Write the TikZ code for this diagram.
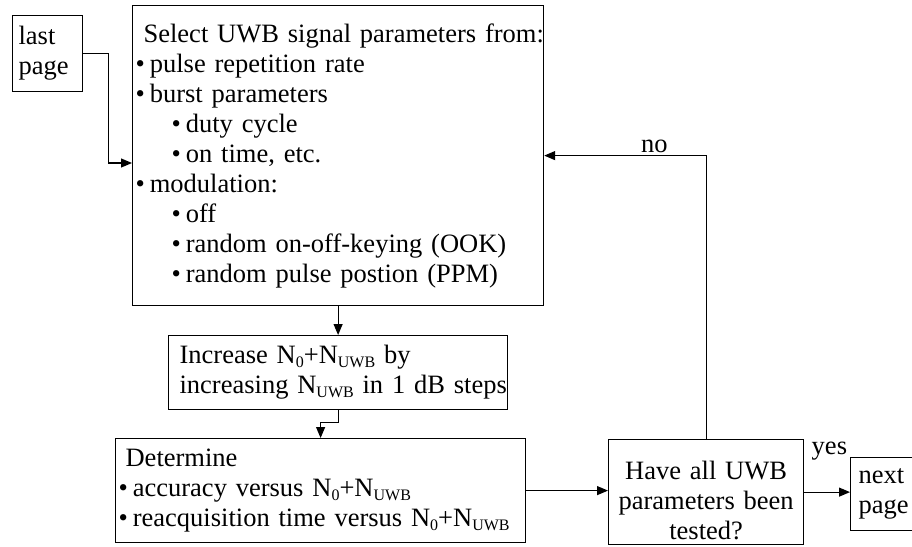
\documentclass[tikz,border=0pt]{standalone}
\usepackage{fontspec}
\setmainfont{Liberation Serif}
\usetikzlibrary{arrows.meta}
\newcommand{\sub}[1]{\raisebox{-0.3ex}{\fontsize{16}{16}\selectfont #1}}
\newcommand{\itm}{\textbullet\hspace{5pt}}
\newcommand{\subitm}{\hspace*{36pt}\textbullet\hspace{5pt}}
\begin{document}
\begin{tikzpicture}[
  x=1pt,y=-1pt,
  font=\fontsize{26.5}{30}\selectfont,
  box/.style={
    draw,
    line width=1.2pt,
    anchor=north west,
    inner ysep=0pt
  },
  a/.style={
    -{Triangle[length=11pt,width=9pt]},
    line width=1.2pt
  }
  ]
  \useasboundingbox (0,0) rectangle (912,546);

  \node (last) [box,inner xsep=6pt,text width=58pt,minimum height=76pt,align=left] at (12,15) {last\\page};
  \node (main) [box,inner xsep=3pt,text width=405pt,minimum height=300pt,align=left] at (132,5)
    {\mbox{\hspace*{8pt}Select UWB signal parameters from:}\\
     \itm pulse repetition rate\\
     \itm burst parameters\\
     \subitm duty cycle\\
     \subitm on time, etc.\\
     \itm modulation:\\
     \subitm off\\
     \subitm random on-off-keying (OOK)\\
     \subitm random pulse postion (PPM)};
  \node (inc) [box,inner xsep=11pt,text width=317pt,minimum height=74pt,align=left] at (168,335)
    {\mbox{Increase N\sub{0}+N\sub{UWB} by}\\
     \mbox{increasing N\sub{UWB} in 1 dB steps}};
  \node (det) [box,inner xsep=3pt,text width=404pt,minimum height=104pt,align=left] at (115,438)
    {\hspace*{7pt}Determine\\
     \itm accuracy versus N\sub{0}+N\sub{UWB}\\
     \mbox{\itm reacquisition time versus N\sub{0}+N\sub{UWB}}};
  \node (have) [box,inner xsep=2pt,text width=191pt,minimum height=105pt,align=center] at (608,439)
    {\rule{0pt}{36pt}Have all UWB\\parameters been\\tested?};
  \node (next) [box,inner xsep=8pt,text width=54pt,minimum height=73pt,align=left] at (850,457) {next\\page};

  \draw [a] (last.east) -- ++(25,0) |- (main.west |- 0,163);
  \draw [a] (main) -- (inc);
  \draw [a] (inc.south) -- ++(0,12) -| (det.north);
  \draw [a] (det.east) -- (det.east -| have.west);
  \draw [a] (have.north) |- (main.east) node [pos=0.66,above,inner sep=2pt] {no};
  \draw [a] (have.east) -- (have.east -| next.west) node [pos=0.55,above=31pt,inner sep=0pt] {yes};
\end{tikzpicture}
\end{document}
